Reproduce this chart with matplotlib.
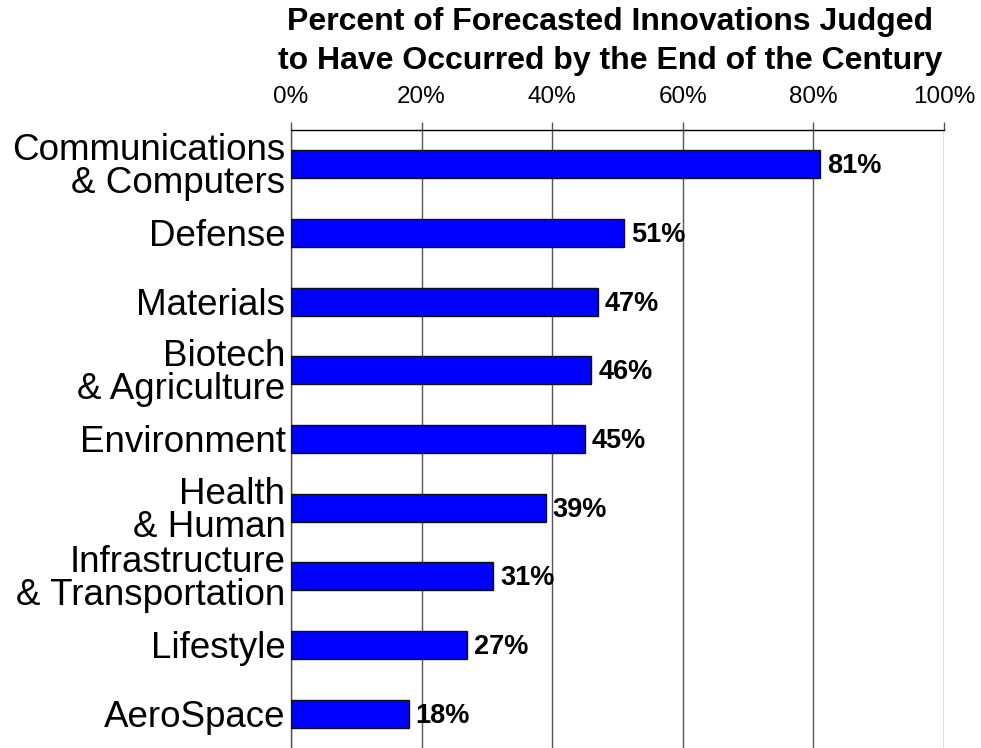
import matplotlib.pyplot as plt

plt.rcParams['font.family'] = ['Liberation Sans', 'DejaVu Sans']

categories = ['Communications\n& Computers', 'Defense', 'Materials',
              'Biotech\n& Agriculture', 'Environment', 'Health\n& Human',
              'Infrastructure\n& Transportation', 'Lifestyle', 'AeroSpace']
percents = [81, 51, 47, 46, 45, 39, 31, 27, 18]
xticks = [0, 20, 40, 60, 80, 100]
xtick_labels = ['0%', '20%', '40%', '60%', '80%', '100%']
title = ('Percent of Forecasted Innovations Judged\n'
         'to Have Occurred by the End of the Century')

fig = plt.figure(figsize=(9.81, 7.48), dpi=100)
ax = fig.add_axes([291 / 981, 0.0, 653 / 981, 618 / 748])

pos = list(range(len(categories)))
ax.barh(pos, percents, height=0.41, color='#0000ff',
        edgecolor='#111111', linewidth=1.0, zorder=3)

for y, v in zip(pos, percents):
    ax.annotate(f'{v}%', xy=(v, y), xytext=(5, -1.5), textcoords='offset points',
                ha='left', va='center', fontsize=19.5, fontweight='bold',
                zorder=4)

ax.set_xlim(0, 100)
ax.set_ylim(8.5, -0.5)

# percent scale along the top
ax.xaxis.tick_top()
ax.set_xticks(xticks)
ax.set_xticklabels(xtick_labels, fontsize=17.5)
ax.tick_params(axis='x', direction='out', length=6, width=1,
               color='#555555', pad=10)
ax.grid(axis='x', color='#555555', linewidth=1, zorder=0)

ax.set_yticks(pos)
ax.set_yticklabels(categories, fontsize=26.5, linespacing=0.93)
ax.tick_params(axis='y', length=0, pad=4)

for side in ['bottom', 'right']:
    ax.spines[side].set_visible(False)
ax.spines['top'].set_color('black')
ax.spines['top'].set_linewidth(1)
ax.spines['left'].set_color('#555555')
ax.spines['left'].set_linewidth(1)

fig.text(610 / 981, 1 - 7 / 748, title, ha='center', va='top',
         fontsize=23, fontweight='bold', linespacing=1.38)

fig.savefig('out.png', dpi=100)
